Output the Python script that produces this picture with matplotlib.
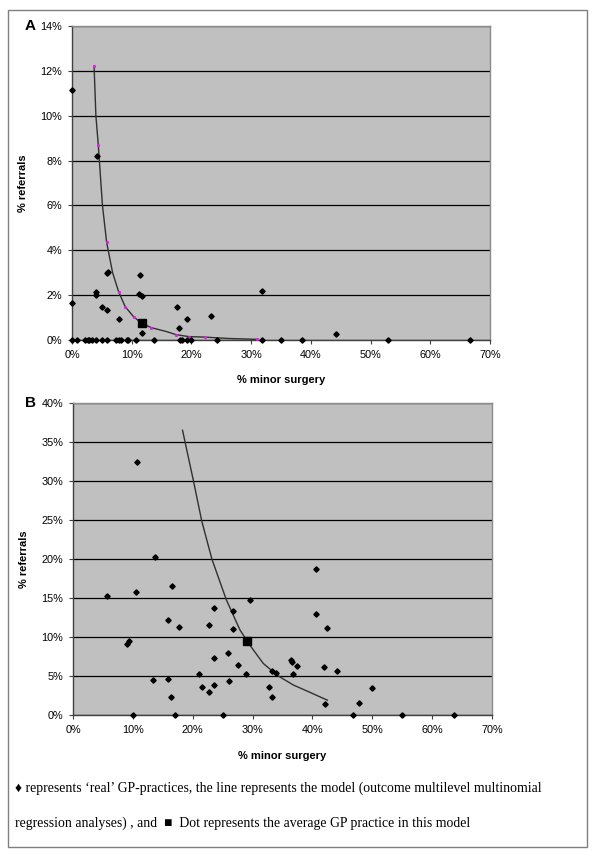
import matplotlib.pyplot as plt
from matplotlib.ticker import FuncFormatter, MultipleLocator
from matplotlib.patches import Rectangle

# Panel A: real GP practices (% minor surgery, % referrals)
a_x = [0.0, 0.0, 4.2, 4.1, 4.0, 5.0, 5.9, 5.8, 6.0, 7.8, 11.4, 11.3, 11.8, 11.7,
       17.5, 18.0, 19.3, 23.3, 31.9, 44.2,
       0.0, 0.8, 2.2, 2.6, 2.9, 3.3, 4.0, 5.0, 5.9, 7.3, 7.8, 8.2, 9.2, 9.3,
       10.7, 13.7, 18.1, 18.5, 19.2, 19.9, 24.3, 31.9, 35.0, 38.6, 52.9, 66.7]
a_y = [11.15, 1.65, 8.2, 2.16, 2.0, 1.45, 1.33, 3.0, 3.05, 0.92, 2.9, 2.05, 1.96, 0.33,
       1.46, 0.55, 0.92, 1.09, 2.2, 0.28,
       0, 0, 0, 0, 0, 0, 0, 0, 0, 0, 0, 0, 0, 0,
       0, 0, 0, 0, 0, 0, 0, 0, 0, 0, 0, 0]
# model line A
a_line_x = [3.7, 4.0, 4.4, 5.1, 5.8, 6.8, 7.8, 8.9, 10.3, 11.7, 13.3, 15.9, 17.4,
            19.6, 22.2, 26.0, 30.9]
a_line_y = [12.2, 10.0, 8.7, 6.0, 4.36, 3.0, 2.16, 1.49, 1.04, 0.74, 0.55, 0.37, 0.24,
            0.15, 0.13, 0.07, 0.03]
a_dots_x = [3.7, 4.4, 5.8, 7.8, 8.9, 10.3, 13.3, 17.4, 19.6, 22.2, 30.9]
a_dots_y = [12.2, 8.7, 4.36, 2.16, 1.49, 1.04, 0.55, 0.24, 0.15, 0.13, 0.03]
a_avg = (11.7, 0.74)

# Panel B
b_x = [10.7, 13.7, 5.7, 10.5, 16.6, 23.5, 26.7, 29.5, 40.6, 40.6,
       15.9, 17.7, 22.7, 26.8, 9.0, 9.4, 25.9, 23.6, 27.6, 28.9, 21.1, 13.4, 15.9,
       21.5, 23.5, 26.1, 22.8, 16.3, 10.0, 17.0, 25.0,
       42.5, 36.5, 36.6, 37.5, 42.0, 44.1, 33.3, 33.9, 36.8, 32.7, 33.3, 50.0,
       42.1, 47.7, 46.8, 55.0, 63.6]
b_y = [32.4, 20.2, 15.3, 15.8, 16.6, 13.75, 13.3, 14.8, 18.7, 13.0,
       12.2, 11.3, 11.6, 11.0, 9.1, 9.5, 7.9, 7.3, 6.4, 5.3, 5.3, 4.5, 4.6,
       3.6, 3.9, 4.4, 2.9, 2.35, 0, 0, 0,
       11.2, 7.0, 6.8, 6.3, 6.1, 5.6, 5.6, 5.4, 5.3, 3.55, 2.35, 3.4,
       1.4, 1.5, 0, 0, 0]
b_line_x = [18.3, 20.1, 21.5, 23.2, 25.6, 27.9, 29.5, 31.8, 34.3, 36.8, 39.6, 42.5]
b_line_y = [36.5, 30.1, 24.9, 20.0, 14.8, 10.9, 9.0, 6.6, 5.0, 3.85, 2.9, 1.9]
b_avg = (29.1, 9.5)

plt.rcParams['font.family'] = ['Liberation Sans', 'DejaVu Sans']

fig = plt.figure(figsize=(6, 8.65), dpi=100)
ax_a = fig.add_axes([72 / 600, 1 - 340 / 865, 418 / 600, 314 / 865])
ax_b = fig.add_axes([73 / 600, 1 - 715 / 865, 419 / 600, 312 / 865])

pct = FuncFormatter(lambda v, p: f"{v:.0f}%")


def style(ax, ymax, ystep, xlab_y):
    ax.set_facecolor('#c0c0c0')
    ax.set_xlim(0, 70)
    ax.set_ylim(0, ymax)
    ax.xaxis.set_major_locator(MultipleLocator(10))
    ax.yaxis.set_major_locator(MultipleLocator(ystep))
    ax.xaxis.set_major_formatter(pct)
    ax.yaxis.set_major_formatter(pct)
    ax.set_axisbelow(True)
    ax.yaxis.grid(True, color='black', lw=0.9)
    for s in ['top', 'right']:
        ax.spines[s].set_color('#8c8c8c')
        ax.spines[s].set_linewidth(1)
    for s in ['left', 'bottom']:
        ax.spines[s].set_color('#404040')
        ax.spines[s].set_linewidth(1)
    ax.tick_params(direction='out', length=3, width=0.8, labelsize=7.8,
                   color='#404040', pad=4)
    ax.set_xlabel('% minor surgery', fontsize=8, fontweight='bold')
    ax.set_ylabel('% referrals', fontsize=8, fontweight='bold')
    ax.yaxis.set_label_coords(-0.105, 0.5)
    ax.xaxis.set_label_coords(0.5, xlab_y)


style(ax_a, 14, 2, -0.111)
style(ax_b, 40, 5, -0.115)

ax_a.plot(a_line_x, a_line_y, color='#303030', lw=1, zorder=3)
ax_a.plot(a_dots_x, a_dots_y, ls='none', marker='o', ms=1.3, color='#e020e0', zorder=4)
ax_a.plot(a_x, a_y, ls='none', marker='D', ms=2.7, color='black', clip_on=False, zorder=5)
ax_a.plot(*a_avg, ls='none', marker='s', ms=6, color='black', zorder=6)

ax_b.plot(b_line_x, b_line_y, color='#303030', lw=1, zorder=3)
ax_b.plot(b_x, b_y, ls='none', marker='D', ms=2.7, color='black', clip_on=False, zorder=5)
ax_b.plot(*b_avg, ls='none', marker='s', ms=6, color='black', zorder=6)

fig.text(30 / 600, 1 - 26 / 865, 'A', fontsize=11, fontweight='bold', ha='center', va='center')
fig.text(30 / 600, 1 - 403 / 865, 'B', fontsize=11, fontweight='bold', ha='center', va='center')

fig.patches.append(Rectangle((8 / 600, 1 - 847 / 865), 579 / 600, 837 / 865,
                             transform=fig.transFigure, fill=False,
                             edgecolor='#808080', lw=1))

serif = ['Liberation Serif', 'DejaVu Serif']
fig.text(15 / 600, 1 - 788 / 865,
         '\u2666 represents \u2018real\u2019 GP-practices, the line represents the model '
         '(outcome multilevel multinomial',
         fontsize=9.9, family=serif, va='center')
fig.text(15 / 600, 1 - 823 / 865,
         'regression analyses) , and  \u25a0  Dot represents the average GP practice in this model',
         fontsize=9.9, family=serif, va='center')

fig.savefig('out.png', dpi=100)
